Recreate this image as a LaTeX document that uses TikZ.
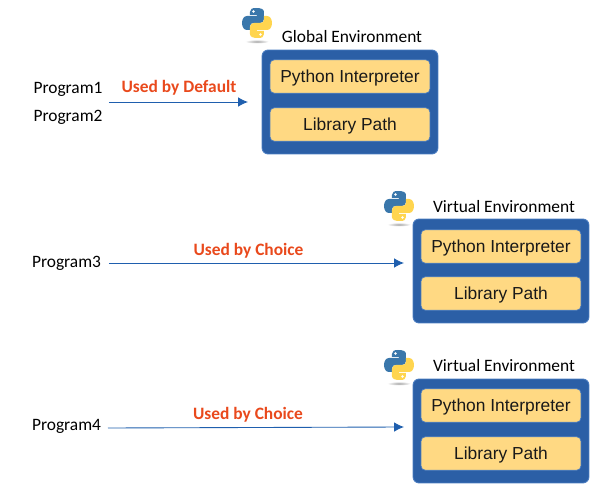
\documentclass[tikz,border=0pt]{standalone}
\usepackage{fontspec}
\usetikzlibrary{arrows.meta}
\setmainfont{Carlito}
\newfontfamily\boxfont{Liberation Sans}
\definecolor{envblue}{HTML}{2B5FA6}
\definecolor{envedge}{HTML}{4A7CC0}
\definecolor{slotyellow}{HTML}{FFD983}
\definecolor{usedred}{HTML}{E9491C}
\definecolor{arrowblue}{HTML}{1F5FAE}
\definecolor{pyblue}{HTML}{3A77AB}
\definecolor{pyyellow}{HTML}{FFD54F}
\tikzset{
  envbox/.style={draw=envedge,fill=envblue,rounded corners=3.5pt,line width=0.5pt,
    minimum width=3.52cm,minimum height=2.08cm,inner sep=0pt},
  slot/.style={draw=envedge,fill=slotyellow,rounded corners=2.5pt,line width=0.4pt,
    minimum width=3.2cm,minimum height=0.67cm,inner sep=0pt,text=black!90,
    text height=9.5pt,text depth=2.2pt,
    font=\boxfont\fontsize{9.9}{12}\selectfont},
  prog/.style={inner sep=0pt,font=\fontsize{9.9}{11}\selectfont},
  envname/.style={inner sep=0pt,font=\fontsize{9.9}{11}\selectfont},
  used/.style={inner sep=0pt,text=usedred,font=\bfseries\fontsize{9.9}{11}\selectfont},
  flow/.style={draw=arrowblue,line width=0.5pt,-{Latex[length=5.6pt,width=5.4pt]}},
  pics/pylogo/.style={code={
    \shade[inner color=black!35,outer color=white] (0,18.5) ellipse (12 and 2);
    \fill[pyblue] (-1,-15) .. controls (-5,-15) and (-7,-14) .. (-7,-11) -- (-7,-8) -- (0,-8) -- (0,-7)
      -- (-10,-7) .. controls (-13,-7) and (-15,-4) .. (-15,0) .. controls (-15,4) and (-13,7) .. (-10,7)
      -- (-7,7) -- (-7,3) .. controls (-7,1) and (-5,0) .. (-3,0) -- (3,0)
      .. controls (5,0) and (7,-1.5) .. (7,-4) -- (7,-11) .. controls (7,-14) and (4,-15) .. (-1,-15) -- cycle;
    \fill[white] (-3.5,-11.5) circle (1.4);
    \begin{scope}[rotate=180]
      \fill[pyyellow] (-1,-15) .. controls (-5,-15) and (-7,-14) .. (-7,-11) -- (-7,-8) -- (0,-8) -- (0,-7)
        -- (-10,-7) .. controls (-13,-7) and (-15,-4) .. (-15,0) .. controls (-15,4) and (-13,7) .. (-10,7)
        -- (-7,7) -- (-7,3) .. controls (-7,1) and (-5,0) .. (-3,0) -- (3,0)
        .. controls (5,0) and (7,-1.5) .. (7,-4) -- (7,-11) .. controls (7,-14) and (4,-15) .. (-1,-15) -- cycle;
      \fill[white] (-3.5,-11.5) circle (1.4);
    \end{scope}
  }}
}
\begin{document}
\begin{tikzpicture}[x=0.02cm,y=-0.02cm]
  \useasboundingbox (0,0) rectangle (600,490);
  % global environment
  \pic at (257,23) {pylogo};
  \node[envname] (globalname) at (352,37) {Global Environment};
  \node[envbox] (globalenv) at (350,102) {};
  \node[slot] (globalpy) at (350,76.5) {Python Interpreter};
  \node[slot] (globallib) at (350,124.5) {Library Path};
  \node[prog] (prog1) at (68,89.5) {Program1};
  \node[prog] (prog2) at (68,117.5) {Program2};
  \node[used] (default) at (179,88) {Used by Default};
  \coordinate (a1) at (109,102);
  \coordinate (b1) at (248,102);
  \draw[flow] (a1) -- (b1);
  % first virtual environment
  \pic at (399,206) {pylogo};
  \node[envname] (virtname1) at (504,206.5) {Virtual Environment};
  \node[envbox] (virtenv1) at (501,271) {};
  \node[slot] (virtpy1) at (501,246.5) {Python Interpreter};
  \node[slot] (virtlib1) at (501,293.5) {Library Path};
  \node[prog] (prog3) at (66.5,263.5) {Program3};
  \node[used] (choice1) at (248.5,250.5) {Used by Choice};
  \coordinate (a2) at (109,263);
  \coordinate (b2) at (404,263);
  \draw[flow] (a2) -- (b2);
  % second virtual environment
  \pic at (399,365) {pylogo};
  \node[envname] (virtname2) at (504,365.5) {Virtual Environment};
  \node[envbox] (virtenv2) at (501,431) {};
  \node[slot] (virtpy2) at (501,405.5) {Python Interpreter};
  \node[slot] (virtlib2) at (501,453.5) {Library Path};
  \node[prog] (prog4) at (66.5,426.5) {Program4};
  \node[used] (choice2) at (248,414.5) {Used by Choice};
  \coordinate (a3) at (108,428);
  \coordinate (b3) at (404,427);
  \draw[flow] (a3) -- (b3);
\end{tikzpicture}
\end{document}
